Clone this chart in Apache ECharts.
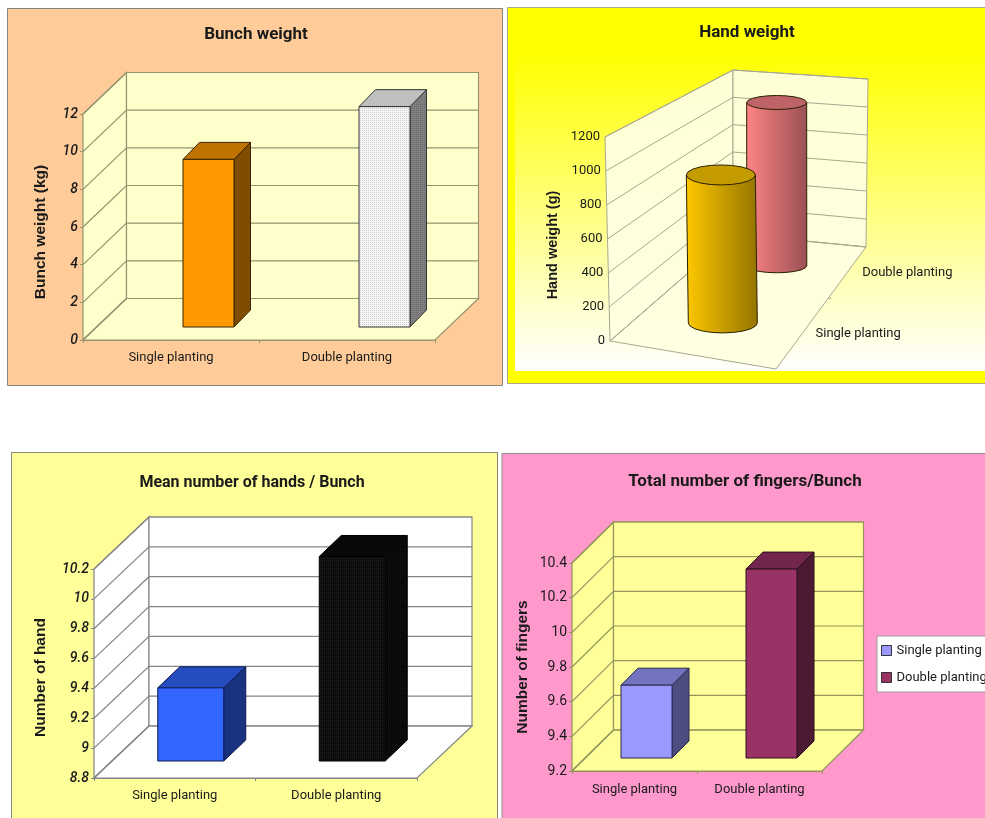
<!DOCTYPE html>
<html>
<head>
<meta charset="utf-8">
<style>html,body{margin:0;padding:0;background:#fff}#chart{width:985px;height:818px}</style>
<script src="https://cdn.jsdelivr.net/npm/echarts@6/dist/echarts.min.js"></script>
</head>
<body>
<div id="chart"></div>
<script>
// Banana yield comparison: single versus double planting, four pseudo-3D column charts.
const categories = ['Single planting', 'Double planting'];

const bunchWeight = [8.9, 11.7];
const bunchTicks = [0, 2, 4, 6, 8, 10, 12];

const handWeight = [910, 1120];
const handTicks = [0, 200, 400, 600, 800, 1000, 1200];

const handsPerBunch = [9.29, 10.17];
const handsTicks = [8.8, 9, 9.2, 9.4, 9.6, 9.8, 10, 10.2];

const fingersPerBunch = [9.62, 10.29];
const fingersTicks = [9.2, 9.4, 9.6, 9.8, 10, 10.2, 10.4];

const LABEL_FONT = 'Roboto,"Liberation Sans",Arial,sans-serif';
const SANS = '"Liberation Sans",Arial,sans-serif';
const INK = '#1a1a1a';
const tickText = v => String(+v.toFixed(1));

// Fine dotted fill used by the two stippled columns.
function stipple(bg, dot) {
  const c = document.createElement('canvas');
  c.width = 2; c.height = 2;
  const g = c.getContext('2d');
  g.fillStyle = bg; g.fillRect(0, 0, 2, 2);
  g.fillStyle = dot; g.fillRect(0, 0, 1, 1);
  return { image: c, repeat: 'repeat' };
}

const option = {
  animation: false,
  backgroundColor: '#ffffff',
  title: [], grid: [], xAxis: [], yAxis: [], series: [],
  graphic: { elements: [
    { type: 'rect', z: 0, shape: { x: 7.5, y: 8.5, width: 495, height: 377 }, style: { fill: '#FFCC99', stroke: '#85857a', lineWidth: 1 } },
    { type: 'rect', z: 0, shape: { x: 507.5, y: 7.5, width: 490, height: 376 }, style: { fill: '#FFFF00', stroke: '#a9a98a', lineWidth: 1 } },
    { type: 'rect', z: 0, shape: { x: 515, y: 9, width: 470, height: 362 }, style: { fill: { type: 'linear', x: 0, y: 0, x2: 0, y2: 1, colorStops: [
      { offset: 0, color: '#FFFF00' }, { offset: 0.12, color: '#FFFF00' }, { offset: 1, color: '#FFFFFF' } ] } } },
    { type: 'rect', z: 0, shape: { x: 11.5, y: 452.5, width: 486, height: 380 }, style: { fill: '#FFFF99', stroke: '#85857a', lineWidth: 1 } },
    { type: 'rect', z: 0, shape: { x: 502, y: 453.5, width: 495, height: 380 }, style: { fill: '#FF99CC', stroke: '#8f8f8f', lineWidth: 1 } }
  ] }
};

function addTitle(text, cx, cy, size) {
  option.title.push({ text, left: cx - 5, top: cy - 12, textAlign: 'center',
    textStyle: { fontFamily: LABEL_FONT, fontSize: size, fontWeight: 'bold', color: INK } });
}

// Front-plane column chart with a receding box: walls, gridlines and prisms are all
// placed from the axis scale and shifted by the box depth.
function addBoxChart(cfg) {
  const g = option.grid.length;
  const min = cfg.ticks[0], max = cfg.ticks[cfg.ticks.length - 1];
  option.grid.push({ left: cfg.left, top: cfg.top, width: cfg.width, height: cfg.height, outerBoundsMode: 'none' });
  option.xAxis.push({ type: 'category', gridIndex: g, data: categories, boundaryGap: true,
    axisLine: { lineStyle: { color: cfg.line } }, axisTick: { show: true, length: 3, lineStyle: { color: cfg.line } },
    axisLabel: { fontFamily: LABEL_FONT, fontSize: 13, color: INK, margin: cfg.xMargin, interval: 0 } });
  option.yAxis.push({ type: 'value', gridIndex: g, min, max, interval: cfg.ticks[1] - cfg.ticks[0],
    splitLine: { show: false }, axisLine: { show: true, lineStyle: { color: cfg.line } },
    axisTick: { show: true, length: 3, lineStyle: { color: cfg.line } },
    axisLabel: { formatter: tickText, fontFamily: LABEL_FONT, fontSize: 14, color: INK, fontStyle: cfg.italic ? 'italic' : 'normal', fontWeight: cfg.italic ? '500' : 'normal', margin: 5 },
    name: cfg.yName, nameLocation: 'middle', nameGap: cfg.nameGap, nameRotate: 90,
    nameTextStyle: { fontFamily: SANS, fontSize: 15.5, fontWeight: 'bold', color: INK, padding: [0, cfg.namePad, 0, 0] } });

  const d = cfg.depth;
  option.series.push({
    type: 'custom', name: cfg.title + ' walls', xAxisIndex: g, yAxisIndex: g, silent: true, clip: false, z: 1,
    data: [[0, min]],
    renderItem(params) {
      const r = params.coordSys, b = r.y + r.height, R = r.x + r.width;
      const st = { fill: cfg.wall, stroke: cfg.line, lineWidth: 1.2 };
      return { type: 'group', children: [
        { type: 'polygon', shape: { points: [[r.x, b], [r.x + d[0], b - d[1]], [r.x + d[0], r.y - d[1]], [r.x, r.y]] }, style: st },
        { type: 'polygon', shape: { points: [[r.x + d[0], b - d[1]], [R + d[0], b - d[1]], [R + d[0], r.y - d[1]], [r.x + d[0], r.y - d[1]]] }, style: st },
        { type: 'polygon', shape: { points: [[r.x, b], [R, b], [R + d[0], b - d[1]], [r.x + d[0], b - d[1]]] }, style: st }
      ] };
    }
  });
  option.series.push({
    type: 'custom', name: cfg.title + ' gridlines', xAxisIndex: g, yAxisIndex: g, silent: true, clip: false, z: 2,
    data: cfg.ticks.map(v => [0, v]),
    renderItem(params, api) {
      const r = params.coordSys, y = api.coord([0, api.value(1)])[1];
      return { type: 'polyline', shape: { points: [[r.x, y], [r.x + d[0], y - d[1]], [r.x + r.width + d[0], y - d[1]]] },
        style: { fill: 'none', stroke: cfg.line, lineWidth: 1.2 } };
    }
  });
  cfg.values.forEach((val, i) => {
    const c = cfg.colors[i];
    option.series.push({
      type: 'custom', name: cfg.legend ? categories[i] : cfg.title + ' ' + categories[i],
      xAxisIndex: g, yAxisIndex: g, clip: false, z: 3,
      itemStyle: { color: c.legend || '#888' },
      data: [[i, val]],
      renderItem(params, api) {
        const base = api.coord([api.value(0), min]), head = api.coord([api.value(0), api.value(1)]);
        const l = base[0] + cfg.barShift[0] - cfg.barWidth / 2, x2 = l + cfg.barWidth;
        const yb = base[1] - cfg.barShift[1], yt = head[1] - cfg.barShift[1];
        const bx = cfg.barDepth[0], by = cfg.barDepth[1];
        const edge = { stroke: c.edge, lineWidth: 1 };
        return { type: 'group', children: [
          { type: 'polygon', shape: { points: [[x2, yb], [x2 + bx, yb - by], [x2 + bx, yt - by], [x2, yt]] }, style: { fill: c.side, ...edge } },
          { type: 'polygon', shape: { points: [[l, yt], [x2, yt], [x2 + bx, yt - by], [l + bx, yt - by]] }, style: { fill: c.top, ...edge } },
          { type: 'polygon', shape: { points: [[l, yb], [x2, yb], [x2, yt], [l, yt]] }, style: { fill: c.front, ...edge } }
        ] };
      }
    });
  });
}

// Perspective chart: floor corners, wall heights and lean, measured from the grid's lower-left corner.
const perspective = {
  floor: { fl: [3, 0], bl: [126, -107], br: [259, -94], fr: [169, 28] },
  height: { fl: 204, bl: 164, br: 168, fr: 209 },
  lean: { fl: -5, bl: 0, br: 2, fr: -3 }
};
const mix = (p, q, t) => p + (q - p) * t;
function bilinear(c, a, b) {
  return mix(mix(c.fl, c.fr, b), mix(c.bl, c.br, b), a);
}
// a: depth from front to back, b: position from left to right, t: share of the value range.
function project(r, a, b, t) {
  const f = perspective.floor;
  const px = bilinear({ fl: f.fl[0], fr: f.fr[0], bl: f.bl[0], br: f.br[0] }, a, b);
  const py = bilinear({ fl: f.fl[1], fr: f.fr[1], bl: f.bl[1], br: f.br[1] }, a, b);
  return [r.x + px + bilinear(perspective.lean, a, b) * t, r.y + r.height + py - bilinear(perspective.height, a, b) * t];
}

function addPerspectiveChart(cfg) {
  const g = option.grid.length;
  const min = cfg.ticks[0], max = cfg.ticks[cfg.ticks.length - 1];
  const rich = {};
  cfg.ticks.forEach(v => {
    rich['v' + v] = { fontFamily: LABEL_FONT, fontSize: 13, color: INK, padding: [0, 5 * (v - min) / (max - min), 0, 0] };
  });
  option.grid.push({ left: cfg.left, top: cfg.top, width: cfg.width, height: cfg.height, outerBoundsMode: 'none' });
  option.xAxis.push({ type: 'category', gridIndex: g, data: categories, show: false });
  option.yAxis.push({ type: 'value', gridIndex: g, min, max, interval: cfg.ticks[1] - cfg.ticks[0],
    splitLine: { show: false }, axisLine: { show: false }, axisTick: { show: false },
    axisLabel: { margin: 2, formatter: v => '{v' + v + '|' + v + '}', rich },
    name: cfg.yName, nameLocation: 'middle', nameGap: cfg.nameGap, nameRotate: 90,
    nameTextStyle: { fontFamily: SANS, fontSize: 14.5, fontWeight: 'bold', color: INK, padding: [0, cfg.namePad, 0, 0] } });

  const share = (api, v) => {
    const y0 = api.coord([0, min])[1], y1 = api.coord([0, max])[1];
    return (y0 - api.coord([0, v])[1]) / (y0 - y1);
  };

  option.series.push({
    type: 'custom', name: cfg.title + ' walls', xAxisIndex: g, yAxisIndex: g, silent: true, clip: false, z: 1,
    data: [[0, min]],
    renderItem(params) {
      const r = params.coordSys, P = (a, b, t) => project(r, a, b, t);
      const st = { fill: cfg.wall, stroke: cfg.line, lineWidth: 1 };
      const mark = P(0.58, 1, 0);
      return { type: 'group', children: [
        { type: 'polygon', shape: { points: [P(0, 0, 0), P(1, 0, 0), P(1, 0, 1), P(0, 0, 1)] }, style: st },
        { type: 'polygon', shape: { points: [P(1, 0, 0), P(1, 1, 0), P(1, 1, 1), P(1, 0, 1)] }, style: st },
        { type: 'polygon', shape: { points: [P(0, 0, 0), P(0, 1, 0), P(1, 1, 0), P(1, 0, 0)] }, style: st },
        { type: 'line', shape: { x1: mark[0], y1: mark[1], x2: mark[0] + 3, y2: mark[1] }, style: { stroke: cfg.line, lineWidth: 1 } }
      ] };
    }
  });
  option.series.push({
    type: 'custom', name: cfg.title + ' gridlines', xAxisIndex: g, yAxisIndex: g, silent: true, clip: false, z: 2,
    data: cfg.ticks.map(v => [0, v]),
    renderItem(params, api) {
      const r = params.coordSys, t = share(api, api.value(1));
      return { type: 'polyline', shape: { points: [project(r, 0, 0, t), project(r, 1, 0, t), project(r, 1, 1, t)] },
        style: { fill: 'none', stroke: cfg.line, lineWidth: 1 } };
    }
  });
  // Rear column first so that the front one overlaps it.
  [1, 0].forEach(i => {
    const c = cfg.colors[i], spot = cfg.spots[i], tag = cfg.labelSpots[i];
    option.series.push({
      type: 'custom', name: cfg.title + ' ' + categories[i], xAxisIndex: g, yAxisIndex: g, clip: false, z: 3,
      data: [[i, cfg.values[i]]],
      renderItem(params, api) {
        const r = params.coordSys, t = share(api, api.value(1));
        const low = project(r, spot.a, spot.b, 0), up = project(r, spot.a, spot.b, t);
        const steps = 10, ring = [], cap = [];
        for (let k = 0; k <= steps; k++) {
          const th = Math.PI * k / steps;
          ring.push([low[0] + spot.r * Math.cos(th), low[1] + spot.ry * Math.sin(th)]);
        }
        const body = [[up[0] - spot.r, up[1]], [up[0] + spot.r, up[1]]].concat(ring);
        for (let k = 0; k < steps * 2; k++) {
          const th = Math.PI * k / steps;
          cap.push([up[0] + spot.r * Math.cos(th), up[1] + spot.ry * Math.sin(th)]);
        }
        const edge = { stroke: '#2a2000', lineWidth: 1 };
        return { type: 'group', children: [
          { type: 'polygon', shape: { points: body }, style: { fill: { type: 'linear', x: 0, y: 0, x2: 1, y2: 0, colorStops: [
            { offset: 0, color: c.left }, { offset: 1, color: c.right } ] }, ...edge } },
          { type: 'polygon', shape: { points: cap }, style: { fill: c.top, ...edge } }
        ] };
      }
    });
    // Category names sit beside the floor's right edge, one per depth slot.
    option.series.push({
      type: 'custom', name: cfg.title + ' label ' + categories[i], xAxisIndex: g, yAxisIndex: g, silent: true, clip: false, z: 3,
      data: [[i, min]],
      renderItem(params, api) {
        const p = project(params.coordSys, tag.a, 1, 0);
        return { type: 'text', style: { x: p[0] + tag.dx, y: p[1] + tag.dy, text: categories[api.value(0)], fontFamily: LABEL_FONT, fontSize: 13, fill: INK, align: 'left', verticalAlign: 'middle' } };
      }
    });
  });
}

addTitle('Bunch weight', 256, 33, 17);
addBoxChart({
  title: 'Bunch weight', yName: 'Bunch weight (kg)', values: bunchWeight, ticks: bunchTicks,
  left: 83, top: 114, width: 352, height: 226, depth: [43.5, 41.5],
  barShift: [37.5, 13], barWidth: 51, barDepth: [16.5, 17],
  wall: '#FFFFCC', line: '#94946f', italic: true, xMargin: 11, nameGap: 34, namePad: 10,
  colors: [
    { front: '#FF9900', side: '#7F4C00', top: '#BF7300', edge: '#3a2600' },
    { front: stipple('#F6F6F6', '#CFCFCF'), side: stipple('#808080', '#6c6c6c'), top: '#BFBFBF', edge: '#333333' }
  ]
});

addTitle('Hand weight', 747, 31, 17);
addPerspectiveChart({
  title: 'Hand weight', yName: 'Hand weight (g)', values: handWeight, ticks: handTicks,
  left: 607, top: 137, width: 170, height: 204,
  wall: 'rgba(255,255,224,0.95)', line: '#a8a890', nameGap: 47, namePad: 12,
  spots: [ { a: 0.28, b: 0.5, r: 34.5, ry: 10 }, { a: 0.78, b: 0.505, r: 30, ry: 7 } ],
  labelSpots: [ { a: 0.25, dx: 17, dy: -5 }, { a: 0.78, dx: 16, dy: -1 } ],
  colors: [
    { left: '#FFC800', right: '#947400', top: '#C49C00' },
    { left: '#FF8484', right: '#9A5055', top: '#BE6468' }
  ]
});

addTitle('Mean number of hands / Bunch', 252, 482, 16);
addBoxChart({
  title: 'Mean number of hands / Bunch', yName: 'Number of hand', values: handsPerBunch, ticks: handsTicks,
  left: 94, top: 569, width: 323, height: 209, depth: [55, 52],
  barShift: [16, 17], barWidth: 66, barDepth: [22, 21],
  wall: '#FFFFFF', line: '#858585', italic: true, xMargin: 11, nameGap: 45, namePad: 8,
  colors: [
    { front: '#3366FF', side: '#1A3380', top: '#264DBF', edge: '#0c1a50' },
    { front: stipple('#0c0c0c', '#1e1e1e'), side: stipple('#070707', '#161616'), top: '#090909', edge: '#000000' }
  ]
});

addTitle('Total number of fingers/Bunch', 745, 480, 17);
addBoxChart({
  title: 'Total number of fingers/Bunch', yName: 'Number of fingers', values: fingersPerBunch, ticks: fingersTicks, legend: true,
  left: 572, top: 563, width: 250, height: 208, depth: [41.5, 41],
  barShift: [12, 13], barWidth: 51, barDepth: [17, 17],
  wall: '#FFFF99', line: '#94945a', italic: false, xMargin: 12, nameGap: 41, namePad: 0,
  colors: [
    { front: '#9999FF', side: '#4D4D80', top: '#7373BF', edge: '#2a2a50', legend: '#9999FF' },
    { front: '#993366', side: '#4D1A33', top: '#73264D', edge: '#2c0f1e', legend: '#993366' }
  ]
});

option.legend = {
  orient: 'vertical', left: 877, top: 636, padding: [8, 6, 8, 4], itemWidth: 10, itemHeight: 10, itemGap: 14,
  backgroundColor: '#FFFFFF', borderColor: '#9a9a9a', borderWidth: 1, selectedMode: false, icon: 'rect',
  textStyle: { fontFamily: LABEL_FONT, fontSize: 13, color: INK },
  data: [
    { name: categories[0], itemStyle: { color: '#9999FF', borderColor: '#333', borderWidth: 1 } },
    { name: categories[1], itemStyle: { color: '#993366', borderColor: '#333', borderWidth: 1 } }
  ]
};

const chart = echarts.init(document.getElementById('chart'), null, { renderer: 'canvas' });
chart.setOption(option);
</script>
</body>
</html>
